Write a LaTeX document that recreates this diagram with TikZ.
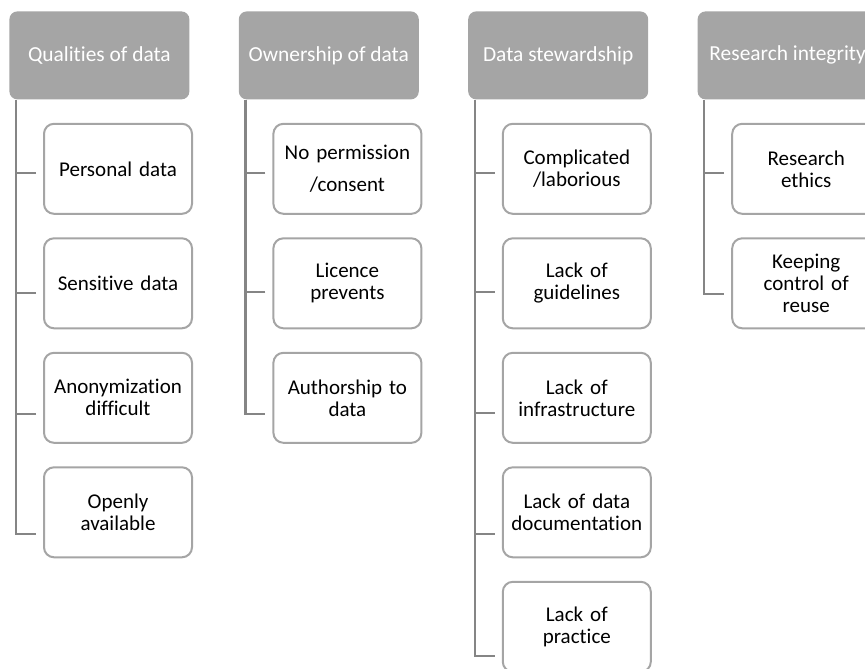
\documentclass[tikz,border=0pt]{standalone}
\usepackage{fontspec}
\setmainfont{Carlito}[Ligatures=NoCommon]
\usetikzlibrary{positioning,calc}

\definecolor{headgray}{HTML}{A5A5A5}
\definecolor{linegray}{HTML}{858585}

\tikzset{
    head/.style={fill=headgray, text=white, rounded corners=4pt, minimum width=90pt,
        minimum height=44pt, inner sep=2pt, font=\fontsize{10.7}{11}\selectfont},
    item/.style={draw=headgray, line width=1pt, fill=white, rounded corners=5pt,
        minimum width=73pt, minimum height=45pt, text width=70pt, align=center,
        inner sep=2pt, font=\fontsize{10.5}{11}\selectfont},
    spine/.style={draw=linegray, line width=1.1pt},
}

\begin{document}
\begin{tikzpicture}[node distance=11.25pt]
    \useasboundingbox (0,0) rectangle (432.5pt,-334pt);

    % headers
    \node[head, anchor=north west] (h1) at (4.5pt,-5.5pt) {Qualities of data};
    \node[head] (h2) [right=24.3pt of h1] {Ownership of data};
    \node[head] (h3) [right=24.3pt of h2] {Data stewardship};
    \node[head] (h4) [right=24.3pt of h3] {Research integrity};

    % qualities
    \node[item] (a1) [below=11.5pt of h1.south west, anchor=north west, xshift=17pt] {Personal data};
    \node[item] (a2) [below=of a1] {Sensitive data};
    \node[item] (a3) [below=of a2] {Anonymization\\ difficult};
    \node[item] (a4) [below=of a3] {Openly\\ available};

    % ownership
    \node[item] (b1) [below=11.5pt of h2.south west, anchor=north west, xshift=17pt] {No permission\\[5pt] /consent};
    \node[item] (b2) [below=of b1] {Licence\\ prevents};
    \node[item] (b3) [below=of b2] {Authorship to\\ data};

    % stewardship
    \node[item] (c1) [below=11.5pt of h3.south west, anchor=north west, xshift=17pt] {Complicated\\ /laborious};
    \node[item] (c2) [below=of c1] {Lack of\\ guidelines};
    \node[item] (c3) [below=of c2] {Lack of\\ infrastructure};
    \node[item] (c4) [below=of c3] {Lack of data\\ documentation};
    \node[item] (c5) [below=of c4] {Lack of\\ practice};

    % integrity
    \node[item] (d1) [below=11.5pt of h4.south west, anchor=north west, xshift=17pt] {Research\\ ethics};
    \node[item] (d2) [below=of d1] {Keeping\\ control of\\ reuse};

    % spines
    \draw[spine] ($(h1.south west)+(3.5pt,0)$) |- ($(a4.west)+(-3.5pt,-11pt)$);
    \draw[spine] ($(h2.south west)+(3.5pt,0)$) |- ($(b3.west)+(-3.5pt,-8pt)$);
    \draw[spine] ($(h3.south west)+(3.5pt,0)$) |- ($(c5.west)+(-3.5pt,-14.5pt)$);
    \draw[spine] ($(h4.south west)+(3.5pt,0)$) |- ($(d2.west)+(-3.5pt,-5.5pt)$);

    % ticks
    \foreach \n/\dy in {a1/2pt, a2/5pt, a3/8pt, b1/2pt, b2/4.5pt, c1/2pt, c2/4.5pt, c3/7.5pt, c4/11pt, d1/2pt}
        \draw[spine] ($(\n.west)+(-3.5pt,-\dy)$) -- +(-10pt,0);
    % \draw[spine] (a1.west) -- +(-10pt,0);
\end{tikzpicture}
\end{document}
